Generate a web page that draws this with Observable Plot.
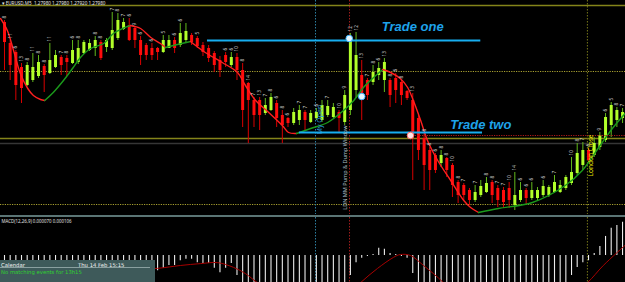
<!DOCTYPE html>
<html><head><meta charset="utf-8">
<script src="https://cdn.jsdelivr.net/npm/d3@7"></script>
<script src="https://cdn.jsdelivr.net/npm/@observablehq/plot@0.6"></script>
<style>
html,body{margin:0;padding:0;background:#000;}
#wrap{position:relative;width:625px;height:282px;background:#000;overflow:hidden;font-family:"DejaVu Sans",sans-serif;}
#main,#macd{overflow:hidden;}
#sep{height:2px;background:#5b7575;}
#cal{position:absolute;left:0;top:260px;width:155px;height:22px;background:#3e5a5a;color:#f2f2f2;font-family:"DejaVu Sans",sans-serif;font-size:5.3px;}
#cal .r1{position:absolute;left:1px;top:2px;width:150px;}
#cal .dt{position:absolute;left:77px;top:0;}
#cal .ln{position:absolute;left:0;top:7px;width:150px;height:1px;background:#8aa0a0;}
#cal .r2{position:absolute;left:1px;top:9px;color:#2fd22f;}
</style></head><body>
<div id="wrap"><div id="main"></div><div id="sep"></div><div id="macd"></div>
<div id="cal"><div class="r1">Calendar<span class="dt">Thu 14 Feb 15:15</span></div><div class="ln"></div><div class="r2">No matching events for 13h15</div></div>
</div>
<script>
// ---- price data (points), one entry per M5 candle ----
const opens  = [192,171,162,147,129,134,138,148,141,147,157,156,151,152,161,164,166,172,167,166,176,185,189,186,174,169,166,166,162,166,174,169,174,179,176,169,166,161,154,159,149,157,144,131,114,114,101,104,111,99,96,91,94,102,92,96,94,99,97,102,92,104,124,139,134,132,139,134,134,136,132,123,114,96,76,64,59,51,56,49,32,29,24,14,19,22,32,26,24,26,9,14,24,16,16,19,19,22,22,26,31,41,49,64,59,67,74,89,94,96];
const highs  = [194,174,164,151,152,161,159,150,171,164,159,159,174,174,174,175,178,174,176,202,201,196,196,187,178,171,171,167,179,179,177,191,191,181,178,172,169,163,158,162,162,161,151,132,117,117,116,121,114,104,97,106,109,104,104,106,114,114,111,104,124,181,182,154,136,149,152,156,136,141,134,124,121,99,81,67,61,64,57,51,34,31,26,29,34,37,34,29,27,32,42,32,26,32,27,34,29,39,34,39,57,71,72,66,77,82,101,112,107,106];
const lows   = [144,134,114,111,128,132,136,122,140,146,139,138,150,150,160,163,158,154,162,164,174,184,173,166,149,154,154,154,161,166,161,167,172,169,166,158,152,142,137,147,147,134,87,71,87,84,99,103,87,71,87,89,89,83,91,94,92,97,96,81,89,99,116,94,114,129,134,122,107,111,109,114,34,54,24,24,41,47,37,17,11,14,9,12,17,21,11,7,6,6,4,12,9,14,14,17,17,21,21,24,29,39,44,51,57,64,72,77,87,91];
const closes = [172,149,129,126,149,147,152,139,154,159,149,152,164,166,172,171,174,156,174,184,194,192,174,174,159,159,159,162,174,174,166,181,183,172,168,162,156,149,144,152,157,144,104,114,99,99,109,117,96,89,91,102,104,94,101,102,109,108,107,96,119,176,159,114,119,142,146,152,119,124,119,116,79,64,49,44,44,59,44,29,19,19,14,22,28,31,19,14,12,14,19,24,16,24,24,28,27,32,29,37,42,61,64,54,71,79,97,109,104,102];

// small tick-count labels printed above candles
const labelIndex = [0,1,2,3,4,5,6,7,8,10,11,12,13,16,17,19,20,21,22,23,24,26,28,30,31,34,39,40,41,42,43,44,45,46,47,48,49,50,52,53,55,57,59,60,61,62,63,64,65,66,67,68,69,70,72,74,75,76,77,78,79,80,81,83,85,86,87,88,89,90,91,92,93,95,97,100,101,102,103,105,106,107,108,109];
const labelText = ["8","11","6","13","8","11","8","8","11","7","8","6","8","8","8","7","8","7","6","9","6","6","5","6","6","5","6","6","10","8","14","7","13","7","8","6","8","6","7","7","6","7","10","9","12","12","13","7","8","6","13","8","6","8","13","8","8","6","8","8","10","8","7","7","8","8","7","7","10","14","6","6","6","6","7","10","8","7","6","9","6","5","8","7"];

// moving average (read at key candles)
const maIndex = [-0.7,0.5,1.6,2.8,4.1,5.1,6.35,7.1,8.6,10.4,12,13.4,15.2,17.5,19.2,20.8,22.2,24,25.8,27.5,28.4,30.5,32.8,35.4,38.4,41.1,42.5,44.3,46.6,49,50.1,51.5,54,57,59.8,61.6,63.3,65.1,66.7,68.1,69.8,71.1,72.1,73.4,74.6,76.4,78.7,81,82.2,83.6,87.1,93.1,98.9,101.9,104.8,107.2,109.6];
const maValue = [196,184,164,141,126,119,115,114,122,134,146,157,166,171,181,186,189,186,177,171,167,170,173,162,152,142,129,114,102,89,82,81,86,92,104,114,127,137,145,142,136,127,114,94,74,54,34,14,7,2,6,12,29,44,67,86,102];

// horizontal levels
const solidLevels = [209, 76];
const dottedLevels = [143, 10];
const greyLevels = [71];

// trades
const tradeNames = ["Trade one", "Trade two"];
const tradeLevel = [174, 82];
const tradeStart = [35.8, 52];
const tradeEnd = [84, 84.3];
const tradeLabelIndex = [72, 84];
const markerIndex = [60.8, 63, 71.6];
const markerLevel = [176, 118, 79];
const stopIndex = [71.6];
const stopLevel = [79];

// session markers (candle index)
const eventIndex = [54.85, 60.85, 102.8];
const eventText = ["My Open", "LDN MM Pump & Dump Window", "London Close"];
const eventTextLevel = [95, 47, 59];

// MACD histogram (x1e-6) and signal line
const macdHist = [-40,-46,-52,-58,-60,-58,-55,-50,-46,-42,-38,-34,-30,-27,-24,-22,-20,-18,-16,-15,-14,-15,-17,-20,-24,-28,-32,
 -32,-27,-21,-21,-11,-8,-8,-15,-17,-17,-27,-36,-27,-17,-42,
 -70,-95,-115,-130,-135,-140,-150,-160,-160,-155,-150,-140,-130,-120,-110,-100,-90,-80,-65,
 -42,-15,-6,-2,2,15,13,4,2,-2,-6,-38,
 -80,-120,-160,-190,-210,-225,-235,-240,-245,-245,-240,-232,-222,-210,-198,-185,-172,-158,-145,-132,-120,-108,-97,-87,-78,-69,-61,
 -42,-25,-15,-11,4,19,40,57,63,70];
const signalIndex = [-0.7,10,20,27,31,34.6,37.6,40.4,42.5,44.6,50,56,60,62.8,65.8,68.6,69.8,71.6,73.9,77.4,82,88,95,100,102.8,105.6,109.6];
const signalValue = [-60,-48,-32,-27,-21,-17,-15,-25,-38,-57,-95,-110,-90,-57,-27,-4,2,0,-21,-57,-120,-170,-130,-80,-57,-21,23];

const headerText = "\u25BE EURUSD,M5  1.27980 1.27980 1.27920 1.27980";
const macdText = "MACD(12,26,9) 0.000070 0.000106";

// ---- build rows ----
const candles = opens.map((o, i) => ({i, o, h: highs[i], l: lows[i], c: closes[i], up: closes[i] >= o}));
const labels = labelIndex.map((i, k) => ({i, h: highs[i], t: labelText[k]}));
const maPts = maIndex.map((x, k) => ({x, v: maValue[k]}));
const segs = []; let cur = null;
for (let k = 0; k < maPts.length - 1; k++) {
  const dir = maPts[k + 1].v < maPts[k].v ? "down" : "up";
  if (!cur || cur.dir !== dir) { cur = {dir, pts: [maPts[k]]}; segs.push(cur); }
  cur.pts.push(maPts[k + 1]);
}
const maRows = segs.flatMap((s, si) => s.pts.map(p => ({...p, seg: si, dir: s.dir})));
const trades = tradeNames.map((name, k) => ({name, level: tradeLevel[k], from: tradeStart[k], to: tradeEnd[k], lx: tradeLabelIndex[k]}));
const markers = markerIndex.map((i, k) => ({i, v: markerLevel[k], k}));
const stops = stopIndex.map((i, k) => ({i, v: stopLevel[k]}));
const events = eventIndex.map((i, k) => ({i, t: eventText[k], v: eventTextLevel[k]}));
const hist = macdHist.map((v, i) => ({i, v}));
const signal = signalIndex.map((i, k) => ({i, v: signalValue[k]}));

const xDomain = [-0.705, 109.52];
const evColors = ["#2d7fa0", "#a01c1c", "#77771a"];

const main = Plot.plot({
  width: 625, height: 215, marginTop: 0, marginRight: 0, marginLeft: 0, marginBottom: 1,
  x: {domain: xDomain, axis: null},
  y: {domain: [0, 214], axis: null},
  color: {type: "identity"},
  style: {background: "#000", overflow: "hidden"},
  marks: [
    Plot.ruleY(solidLevels, {stroke: "#84841a", strokeWidth: 1.5}),
    Plot.ruleY(dottedLevels, {stroke: "#a8a030", strokeWidth: 1, strokeDasharray: "1.2,1.2"}),
    Plot.ruleY(greyLevels, {stroke: "#363636", strokeWidth: 1.5}),
    Plot.ruleX(events, {x: "i", stroke: (d, k) => evColors[k], strokeWidth: 1, strokeDasharray: "1.5,1.5"}),
    Plot.ruleX(candles, {x: "i", y1: "l", y2: "h", stroke: d => d.up ? "#62b81c" : "#d80000", strokeWidth: 1}),
    Plot.ruleX(candles, {x: "i", y1: "o", y2: "c", stroke: d => d.up ? "#b2ff2a" : "#ff0c0c", strokeWidth: 3}),
    Plot.line(maRows, {x: "x", y: "v", z: "seg", stroke: d => d.dir === "down" ? "#ff1f1f" : "#1b9a1b", strokeWidth: 1.4, curve: "catmull-rom"}),
    Plot.text(labels, {x: "i", y: "h", text: "t", rotate: -90, textAnchor: "start", dy: -2, fontSize: 4.6, fill: "#d6d6d6"}),
    Plot.ruleY(stops, {y: "v", x1: "i", x2: 110, stroke: "#b01818", strokeDasharray: "1.2,1.2"}),
    Plot.ruleY(trades, {y: "level", x1: "from", x2: "to", stroke: "#17aef0", strokeWidth: 2}),
    Plot.text([trades[0]], {x: "lx", y: "level", text: "name", dy: -14, fontSize: 13, fontWeight: "bold", fontStyle: "italic", fontFamily: "Liberation Sans", fill: "#1ea2ea"}),
    Plot.text([trades[1]], {x: "lx", y: "level", text: "name", dy: -7.5, fontSize: 13, fontWeight: "bold", fontStyle: "italic", fontFamily: "Liberation Sans", fill: "#1ea2ea"}),
    Plot.dot(markers, {x: "i", y: "v", r: 3.3, fill: d => d.k === 2 ? "#ffe6e6" : "#e6f6ff", stroke: d => d.k === 2 ? "#ff6a6a" : "#40b4ff", strokeWidth: 1}),
    Plot.text([events[0]], {x: "i", y: "v", text: "t", rotate: -90, dx: 4.5, fontSize: 7, fill: "#2a9ad8"}),
    Plot.text([events[1]], {x: "i", y: "v", text: "t", rotate: -90, dx: -4, fontSize: 5.5, fill: "#a8bcc4"}),
    Plot.text([events[2]], {x: "i", y: "v", text: "t", rotate: -90, dx: 3.5, fontSize: 6.6, fill: "#e6e600"}),
    Plot.text([headerText], {frameAnchor: "top-left", dx: 1, dy: 1, fontSize: 4.6, fill: "#e8e8e8"})
  ]
});
document.getElementById("main").append(main);

const macd = Plot.plot({
  width: 625, height: 65, margin: 0,
  x: {domain: xDomain, axis: null},
  y: {domain: [-56.7, 79.8], axis: null},
  style: {background: "#000", overflow: "hidden"},
  marks: [
    Plot.ruleX(events, {x: "i", stroke: (d, k) => evColors[k], strokeWidth: 1, strokeDasharray: "1.5,1.5"}),
    Plot.ruleX(hist, {x: "i", y1: 0, y2: "v", stroke: "#ececec", strokeWidth: 1.1}),
    Plot.line(signal, {x: "i", y: "v", stroke: "#a80000", strokeWidth: 1, curve: "catmull-rom"}),
    Plot.text([macdText], {frameAnchor: "top-left", dx: 1, dy: 2, fontSize: 4.4, fill: "#e0e0e0"})
  ]
});
document.getElementById("macd").append(macd);
</script>
</body></html>
